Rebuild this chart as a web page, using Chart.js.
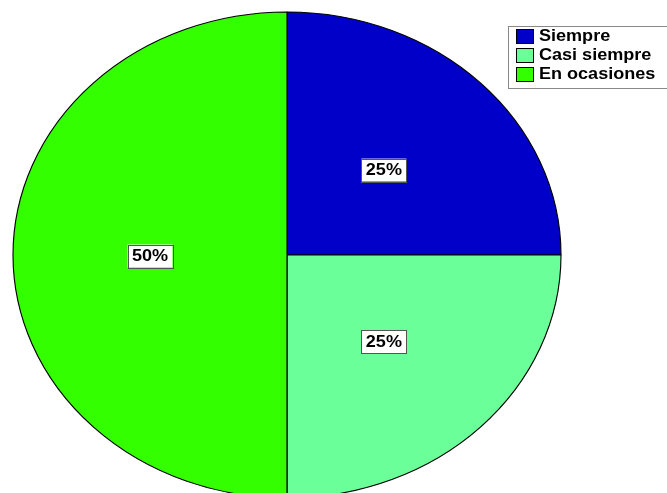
<!DOCTYPE html>
<html>
<head>
<meta charset="utf-8">
<script src="https://cdn.jsdelivr.net/npm/chart.js@4"></script>
<style>
    html, body { margin: 0; padding: 0; background: #fff; }
    #wrap { width: 667px; height: 493px; position: relative; }
</style>
</head>
<body>
<div id="wrap"><canvas id="pieChart"></canvas></div>
<script>
const categories = ['Siempre', 'Casi siempre', 'En ocasiones'];
const percentages = [25, 25, 50];
const sliceColors = ['#0000c8', '#6bff9a', '#33ff00'];

// the original picture is stretched sideways
const stretchX = 274 / 243;

const stretchPlugin = {
    id: 'stretch',
    beforeDatasetsDraw(chart) {
        const arc = chart.getDatasetMeta(0).data[0];
        const ctx = chart.ctx;
        ctx.save();
        ctx.translate(arc.x, arc.y);
        ctx.scale(stretchX, 1);
        ctx.translate(-arc.x, -arc.y);
    },
    afterDatasetsDraw(chart) {
        chart.ctx.restore();
    }
};

const labelPlugin = {
    id: 'pctLabels',
    afterDatasetsDraw(chart) {
        const ctx = chart.ctx;
        const meta = chart.getDatasetMeta(0);
        ctx.save();
        ctx.font = 'bold 16px "Liberation Sans", Arial, sans-serif';
        ctx.textAlign = 'center';
        ctx.textBaseline = 'middle';
        meta.data.forEach((arc, i) => {
            const mid = (arc.startAngle + arc.endAngle) / 2;
            const r = arc.outerRadius * 0.5;
            const x = arc.x + Math.cos(mid) * r * stretchX;
            const y = arc.y + Math.sin(mid) * r + 1;
            const text = percentages[i] + '%';
            const w = 45, h = 23;
            ctx.fillStyle = '#fff';
            ctx.fillRect(x - w / 2, y - h / 2, w, h);
            ctx.strokeStyle = '#555';
            ctx.lineWidth = 1;
            ctx.strokeRect(Math.round(x - w / 2) + 0.5, Math.round(y - h / 2) + 0.5, w, h);
            ctx.save();
            ctx.translate(x, y + 1);
            ctx.scale(stretchX, 1);
            ctx.fillStyle = '#000';
            ctx.fillText(text, 0, 0);
            ctx.restore();
        });
        ctx.restore();
    }
};

const legendPlugin = {
    id: 'boxLegend',
    afterDraw(chart) {
        const ctx = chart.ctx;
        const left = 508, top = 26, rowH = 19;
        ctx.save();
        ctx.fillStyle = '#fff';
        ctx.fillRect(left, top, 200, 62);
        ctx.strokeStyle = '#888';
        ctx.lineWidth = 1;
        ctx.strokeRect(left + 0.5, top + 0.5, 200, 62);
        ctx.font = 'bold 16px "Liberation Sans", Arial, sans-serif';
        ctx.textBaseline = 'middle';
        categories.forEach((name, i) => {
            const cy = top + 10 + i * rowH;
            ctx.fillStyle = sliceColors[i];
            ctx.fillRect(516, cy - 7, 18, 15);
            ctx.strokeStyle = '#000';
            ctx.strokeRect(516.5, cy - 6.5, 17, 14);
            ctx.save();
            ctx.translate(539, cy + 1);
            ctx.scale(stretchX, 1);
            ctx.fillStyle = '#000';
            ctx.fillText(name, 0, 0);
            ctx.restore();
        });
        ctx.restore();
    }
};

const ctxPie = document.getElementById('pieChart').getContext('2d');
const pieChart = new Chart(ctxPie, {
    type: 'pie',
    data: {
        labels: categories,
        datasets: [{
            data: percentages,
            backgroundColor: sliceColors,
            borderColor: '#000',
            borderWidth: 1,
            hoverOffset: 0,
            clip: false
        }]
    },
    options: {
        responsive: true,
        maintainAspectRatio: false,
        animation: false,
        radius: 243,
        layout: {
            padding: { left: 0, right: 93, top: 17, bottom: 0 }
        },
        plugins: {
            legend: { display: false },
            tooltip: { enabled: false }
        }
    },
    plugins: [stretchPlugin, labelPlugin, legendPlugin]
});
</script>
</body>
</html>
